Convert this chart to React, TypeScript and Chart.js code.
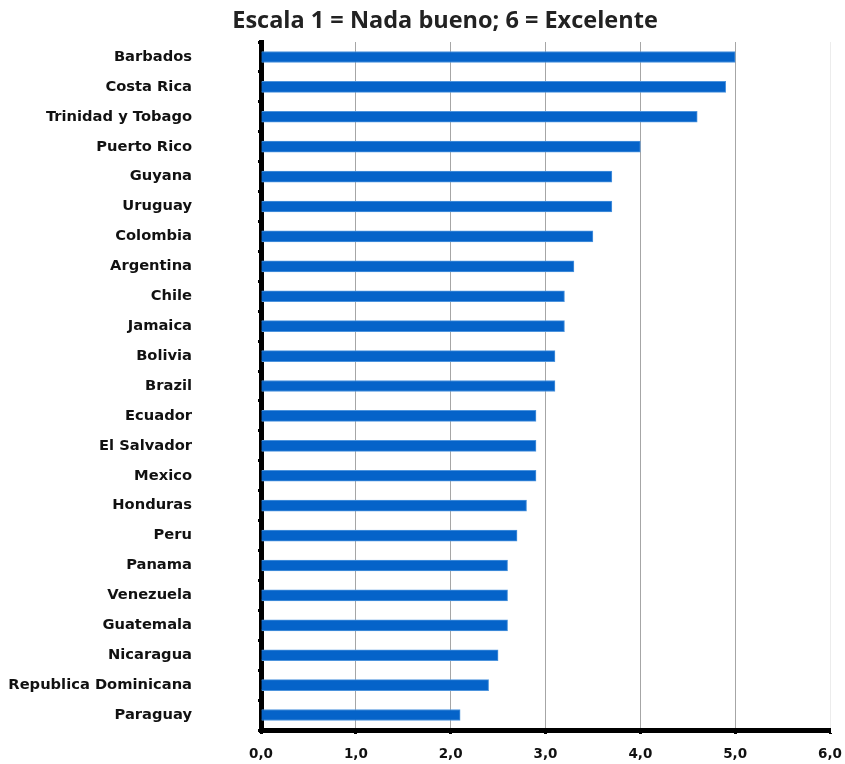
import React, { useEffect, useRef } from "react";
import { Chart, registerables } from "chart.js";

Chart.register(...registerables);

const countries = [
  "Barbados", "Costa Rica", "Trinidad y Tobago", "Puerto Rico", "Guyana", "Uruguay",
  "Colombia", "Argentina", "Chile", "Jamaica", "Bolivia", "Brazil", "Ecuador",
  "El Salvador", "Mexico", "Honduras", "Peru", "Panama", "Venezuela", "Guatemala",
  "Nicaragua", "Republica Dominicana", "Paraguay",
];
const scores = [
  5.0, 4.9, 4.6, 4.0, 3.7, 3.7, 3.5, 3.3, 3.2, 3.2, 3.1, 3.1, 2.9,
  2.9, 2.9, 2.8, 2.7, 2.6, 2.6, 2.6, 2.5, 2.4, 2.1,
];
const xTicks = [0, 1, 2, 3, 4, 5, 6];
const titleText = "Escala 1 = Nada bueno; 6 = Excelente";

const titlePlugin = {
  id: "customTitle",
  afterDraw(chart: any) {
    const ctx = chart.ctx;
    ctx.save();
    ctx.font = 'bold 23.5px "Open Sans"';
    ctx.fillStyle = "#222";
    ctx.textAlign = "center";
    ctx.textBaseline = "middle";
    ctx.fillText(titleText, 445, 21);
    ctx.restore();
  },
};

export default function App() {
  const ref = useRef<HTMLCanvasElement>(null);
  useEffect(() => {
    if (!ref.current) return;
    const chart = new Chart(ref.current, {
      type: "bar",
      data: {
        labels: countries,
        datasets: [
          {
            data: scores,
            backgroundColor: "#0563C9",
            borderColor: "#4d94dd",
            borderWidth: 1,
            borderSkipped: "start",
            barThickness: 11,
          },
        ],
      },
      options: {
        indexAxis: "y",
        animation: false,
        responsive: false,
        maintainAspectRatio: false,
        layout: { padding: { top: 42, right: 15, left: 0, bottom: 0 } },
        plugins: {
          legend: { display: false },
          title: { display: false },
          tooltip: { enabled: false },
        },
        scales: {
          x: {
            type: "linear",
            min: 0,
            max: 6,
            afterBuildTicks: (s: any) => {
              s.ticks = xTicks.map((v) => ({ value: v }));
            },
            afterFit: (s: any) => {
              s.height = 34;
              s.paddingLeft = 0;
              s.paddingRight = 12;
            },
            ticks: {
              stepSize: 1,
              padding: 12,
              color: "#111",
              font: { family: '"DejaVu Sans"', size: 13.5, weight: "bold" },
              callback: (v: any) => Number(v).toFixed(1).replace(".", ","),
            },
            grid: {
              color: (c: any) =>
                c.tick && c.tick.value === 0
                  ? "rgba(0,0,0,0)"
                  : c.tick && c.tick.value === 6
                  ? "#ececec"
                  : "#a6a6a6",
              lineWidth: 1,
              tickColor: "#000",
              tickLength: 4,
              tickWidth: 3,
            },
            border: { display: true, color: "#000", width: 5 },
          },
          y: {
            type: "category",
            z: 1,
            afterFit: (s: any) => {
              s.width = 261;
              s.paddingTop = 0;
              s.paddingBottom = 0;
            },
            ticks: {
              padding: 66,
              color: "#111",
              font: { family: '"DejaVu Sans"', size: 14.7, weight: "bold" },
              autoSkip: false,
            },
            grid: {
              drawOnChartArea: false,
              tickColor: "#000",
              tickLength: 3,
              tickWidth: 3,
            },
            border: { display: true, color: "#000", width: 5 },
          },
        },
      },
      plugins: [titlePlugin],
    });
    return () => chart.destroy();
  }, []);
  return (
    <div style={{ position: "absolute", left: 0, top: 0, width: 845, height: 764, background: "#fff" }}>
      <canvas ref={ref} width={845} height={764} />
    </div>
  );
}
